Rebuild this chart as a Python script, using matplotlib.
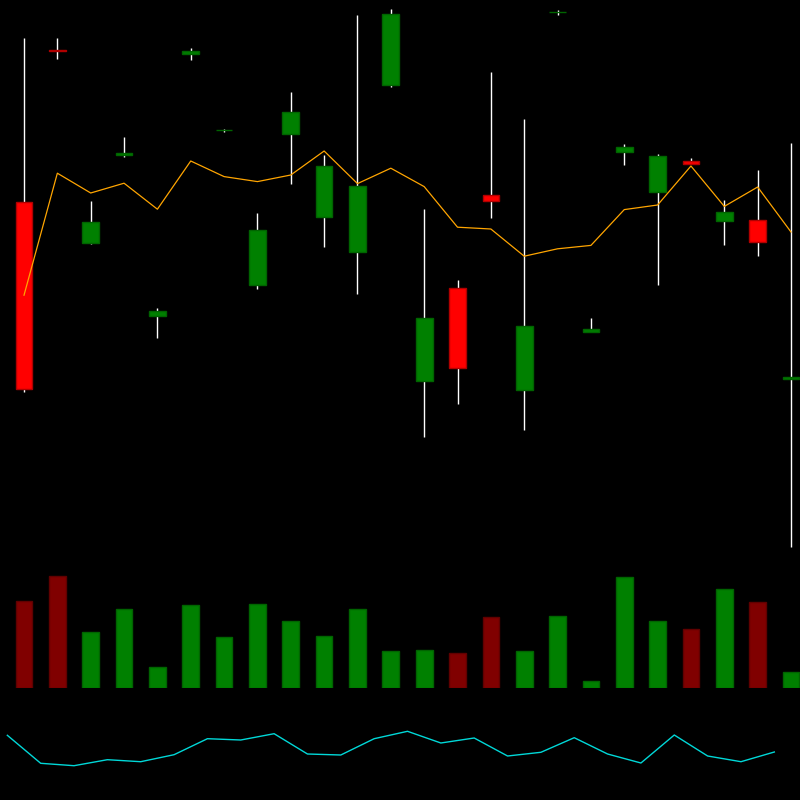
import matplotlib
matplotlib.use("Agg")
import matplotlib.pyplot as plt
import numpy as np

# OHLC data (price units)
opens  = [49.89, 57.50, 47.84, 52.25, 44.22, 57.29, 53.48, 45.75, 53.30, 49.17, 47.42, 55.77,
          40.95, 45.60, 50.24, 40.49, 59.39, 43.41, 52.38, 50.40, 51.93, 48.93, 49.00, 41.05]
highs  = [58.09, 58.09, 49.94, 53.15, 44.59, 57.60, 53.57, 49.35, 55.39, 52.25, 59.25, 59.54,
          49.55, 45.99, 56.39, 54.05, 59.50, 44.11, 52.81, 52.29, 52.09, 50.02, 51.50, 52.86]
lows   = [40.38, 57.07, 47.79, 52.14, 43.12, 57.00, 53.42, 45.57, 50.82, 47.65, 45.32, 55.67,
          38.14, 39.79, 49.12, 38.52, 59.27, 43.41, 51.73, 45.77, 51.79, 47.73, 47.22, 32.65]
closes = [40.53, 57.44, 48.90, 52.33, 44.45, 57.47, 53.51, 48.49, 54.42, 51.70, 50.70, 59.30,
          44.10, 41.62, 49.97, 43.70, 59.42, 43.56, 52.66, 52.18, 51.79, 49.40, 47.91, 41.16]
ma_line = [45.24, 51.34, 50.35, 50.84, 49.54, 51.95, 51.17, 50.92, 51.25, 52.45, 50.82, 51.59,
           50.67, 48.64, 48.55, 47.19, 47.56, 47.73, 49.52, 49.75, 51.70, 49.68, 50.65, 48.40]
volumes = [87300, 112000, 55700, 79000, 21300, 83000, 51000, 84000, 67000, 52300, 79300, 37000,
           37700, 35000, 71300, 37000, 72000, 6700, 110700, 67000, 58700, 98700, 86300, 16300]
indicator = [64.7, 36.7, 34.3, 40.3, 38.3, 45.3, 61.3, 60.0, 66.3, 46.0, 45.0, 61.3,
             68.7, 57.0, 62.0, 44.0, 47.7, 62.3, 46.0, 37.0, 65.0, 44.0, 38.3, 48.0]

n = len(opens)
x = np.arange(n)
up = np.array(closes) >= np.array(opens)

fig = plt.figure(figsize=(8, 8), dpi=100, facecolor="black")
xlim = (-0.72, 23.27)

ax = fig.add_axes([0, 0.3, 1, 0.7])
axv = fig.add_axes([0, 0.14, 1, 0.16])
axi = fig.add_axes([0, 0.0, 1, 0.14])
for a in (ax, axv, axi):
    a.set_facecolor("black")
    a.set_xlim(*xlim)
    a.axis("off")

# price panel
ax.vlines(x, lows, highs, color="white", lw=1.0, zorder=1)
bottoms = np.minimum(opens, closes)
heights = np.abs(np.array(closes) - np.array(opens))
body_col = ["#008000" if u else "#ff0000" for u in up]
edge_col = ["#006400" if u else "#b00000" for u in up]
ax.bar(x, heights, bottom=bottoms, width=0.5, color=body_col, edgecolor=edge_col,
       linewidth=1.0, zorder=2)
ax.plot(x, ma_line, color="#ffa500", lw=0.9, zorder=3)
ax.set_ylim(32, 60)

# volume panel
vol_col = ["#008000" if u else "#800000" for u in up]
vol_edge = ["#006400" if u else "#600000" for u in up]
axv.bar(x, volumes, width=0.5, color=vol_col, edgecolor=vol_edge, linewidth=1.0)
axv.set_ylim(0, 128000)

# indicator panel
axi.plot(x - 0.5, indicator, color="#00d8d8", lw=1.0)
axi.set_ylim(0, 112)

fig.savefig("out.png", dpi=100, facecolor="black")
